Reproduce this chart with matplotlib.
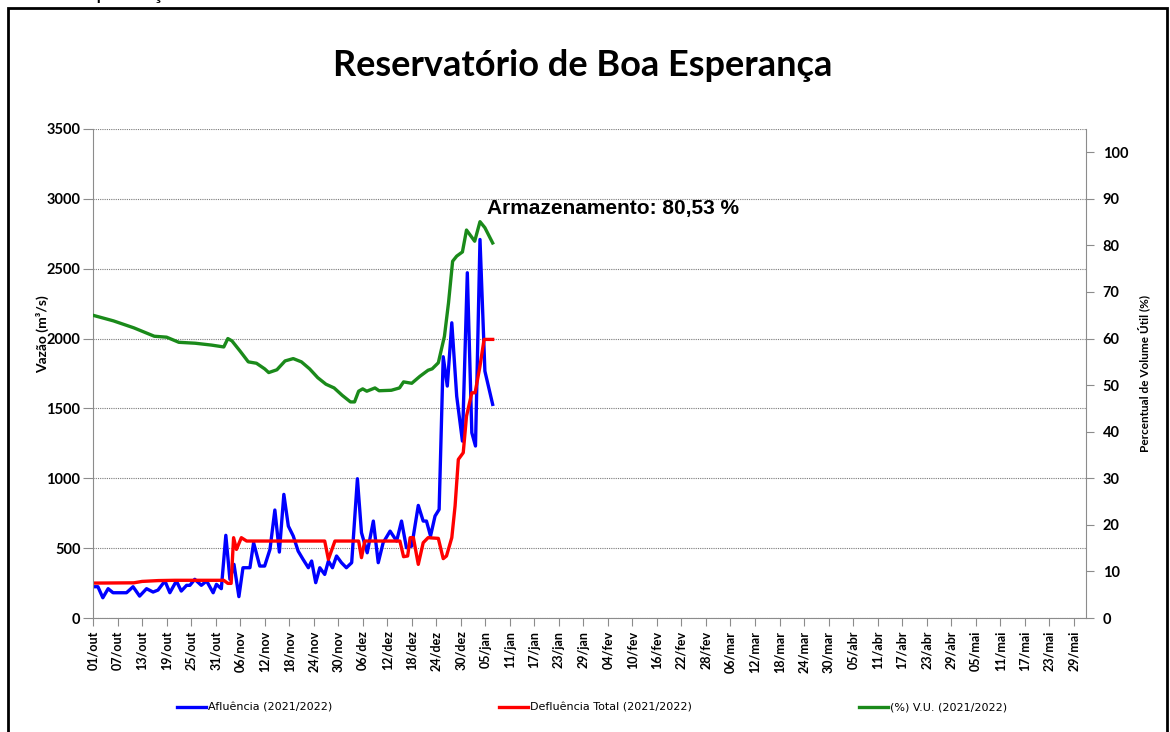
import datetime as dt

import matplotlib
matplotlib.use("Agg")
import matplotlib.pyplot as plt
from matplotlib.patches import Rectangle

# dias contados a partir de 01/out/2021
afl_dia = [0, 1.2, 2.4, 3.7, 4.9, 8.2, 9.8, 11.4, 13.1, 14.7, 15.9, 17.6, 18.8, 20.4,
           21.6, 22.9, 23.7, 24.9, 26.5, 27.8, 29.4, 30.2, 31.4, 32.5, 33.5, 34.5, 35.7,
           36.7, 38.4, 39.3, 40.8, 42.0, 43.3, 44.5, 45.6, 46.7, 47.8, 49.0, 50.2, 51.4,
           52.7, 53.5, 54.5, 55.5, 56.7, 57.6, 58.6, 59.6, 60.8, 62.0, 63.3, 64.7, 65.7,
           67.1, 68.6, 69.8, 71.0, 72.7, 74.3, 75.5, 76.7, 78.0, 79.6, 80.8, 81.6, 82.6,
           83.7, 84.7, 85.7, 86.7, 87.8, 89.0, 90.4, 91.6, 92.7, 93.6, 94.7, 95.9, 97.8]
afl_vazao = [224, 224, 145, 210, 181, 181, 224, 157, 210, 186, 200, 265, 181, 265,
             193, 234, 234, 277, 234, 265, 181, 241, 210, 592, 277, 384, 153,
             360, 360, 539, 372, 372, 491, 773, 472, 885, 658, 587, 479, 420,
             360, 408, 253, 360, 312, 408, 360, 444, 396, 360, 396, 997, 611,
             467, 694, 396, 539, 622, 551, 694, 503, 515, 806, 694, 694, 587,
             730, 777, 1870, 1660, 2113, 1588, 1266, 2471, 1326, 1231, 2709, 1767, 1529]

defl_dia = [0, 10, 12, 16, 20, 32, 33, 33.8, 34.4, 35.1, 36.3, 37.6, 56.7, 57.6, 59.2,
            65.0, 65.7, 66.5, 75.1, 76.0, 77.0, 77.6, 78.4, 79.6, 80.8, 82.0, 84.5, 85.7,
            86.5, 87.8, 88.6, 89.4, 90.6, 91.4, 92.7, 93.5, 94.7, 95.7, 97.8]
defl_vazao = [250, 252, 262, 268, 270, 270, 248, 248, 575, 491, 575, 551, 551, 420, 551,
              551, 432, 551, 551, 439, 444, 575, 575, 384, 539, 575, 570, 425,
              444, 575, 801, 1135, 1183, 1445, 1612, 1612, 1803, 1994, 1994]

vu_dia = [0, 5, 10, 15, 18, 21, 25, 29, 32, 33, 34, 36, 38, 40, 42, 43, 45, 47, 49, 51,
          53, 55, 57, 59, 61, 63, 64, 65, 66, 67, 69, 70, 73, 75, 76, 78, 80, 82, 83, 84.5,
          86, 87, 88, 89, 90.4, 91.4, 93.4, 94.7, 95.9, 97.8]
vu_pct = [65.0, 63.8, 62.3, 60.5, 60.3, 59.2, 59.0, 58.6, 58.2, 60.0, 59.5, 57.3, 55.0,
          54.7, 53.5, 52.7, 53.3, 55.2, 55.7, 55.0, 53.5, 51.6, 50.2, 49.4, 47.8, 46.4,
          46.4, 48.7, 49.2, 48.7, 49.4, 48.8, 48.9, 49.4, 50.7, 50.4, 51.9, 53.2, 53.5, 54.8,
          60.5, 67.7, 76.6, 77.7, 78.6, 83.3, 80.9, 85.1, 83.8, 80.53]

meses = ["jan", "fev", "mar", "abr", "mai", "jun", "jul", "ago", "set", "out", "nov", "dez"]
inicio = dt.date(2021, 10, 1)
tick_dias = list(range(0, 241, 6))
tick_labels = []
for d in tick_dias:
    data = inicio + dt.timedelta(days=d)
    tick_labels.append("%02d/%s" % (data.day, meses[data.month - 1]))

fonte = ["Lato", "DejaVu Sans"]
cinza = "#8c8c8c"

fig = plt.figure(figsize=(11.7, 7.32), dpi=100)
ax = fig.add_axes([0.0795, 0.1557, 0.8487, 0.6681])
ax2 = ax.twinx()

ax.plot(afl_dia, afl_vazao, color="#0000ff", lw=2.4, solid_joinstyle="round",
        label="Afluência (2021/2022)")
ax.plot(defl_dia, defl_vazao, color="#ff0000", lw=2.4, solid_joinstyle="round",
        label="Defluência Total (2021/2022)")
ax2.plot(vu_dia, vu_pct, color="#1a8a1a", lw=2.4, solid_joinstyle="round",
         label="(%) V.U. (2021/2022)")

ax.set_xlim(0, 243)
ax.set_ylim(0, 3500)
ax2.set_ylim(0, 105)
ax.set_yticks(range(0, 3501, 500))
ax2.set_yticks(range(0, 101, 10))
ax.set_xticks(tick_dias)
ax.set_xticklabels(tick_labels, rotation=90, family=fonte, fontweight="bold", fontsize=9)

for a in (ax, ax2):
    for s in a.spines.values():
        s.set_color(cinza)
    a.spines["top"].set_visible(False)
ax.spines["right"].set_visible(False)
ax2.spines["left"].set_visible(False)
ax2.spines["bottom"].set_visible(False)

ax.grid(axis="y", linestyle=(0, (1, 1)), color="#7a7a7a", lw=0.8)
ax.set_axisbelow(True)
ax.tick_params(axis="y", length=7, color=cinza, pad=2)
ax.tick_params(axis="x", length=6, color=cinza, pad=3)
ax2.tick_params(axis="y", length=6, color=cinza, pad=6)
for lab in ax.get_yticklabels() + ax2.get_yticklabels():
    lab.set_family(fonte)
    lab.set_fontweight("bold")
    lab.set_fontsize(10.5)

ax.set_ylabel("Vazão (m³/s)", family=fonte, fontweight="bold", fontsize=10)
ax.yaxis.set_label_coords(-0.044, 0.58)
ax2.set_ylabel("Percentual de Volume Útil (%)", family=fonte, fontweight="bold", fontsize=8.5)
ax2.yaxis.set_label_coords(1.052, 0.5)

ax.text(96.3, 2930, "Armazenamento: 80,53 %", family=["Liberation Sans", "DejaVu Sans"],
        fontweight="bold", fontsize=15, ha="left", va="center")

fig.text(0.498, 0.911, "Reservatório de Boa Esperança", family=fonte, fontweight="bold",
         fontsize=26, ha="center", va="center")
fig.text(30 / 1170, 1 + 1 / 732, "Boa Esperança", family=fonte, fontsize=16, va="baseline")

linhas = ax.get_lines() + ax2.get_lines()
fig.legend(linhas, [l.get_label() for l in linhas], loc="center",
           bbox_to_anchor=(0.506, 1 - 708 / 732), ncol=3, frameon=False,
           columnspacing=15, handlelength=2.6, handletextpad=0.2,
           prop={"family": ["Liberation Sans Narrow", "DejaVu Sans"], "size": 8})

fig.add_artist(Rectangle((8 / 1170, -0.05), (1167 - 8) / 1170, 1.05 - 8 / 732,
                         transform=fig.transFigure, fill=False, lw=2, ec="black"))

fig.savefig("out.png", dpi=100)
